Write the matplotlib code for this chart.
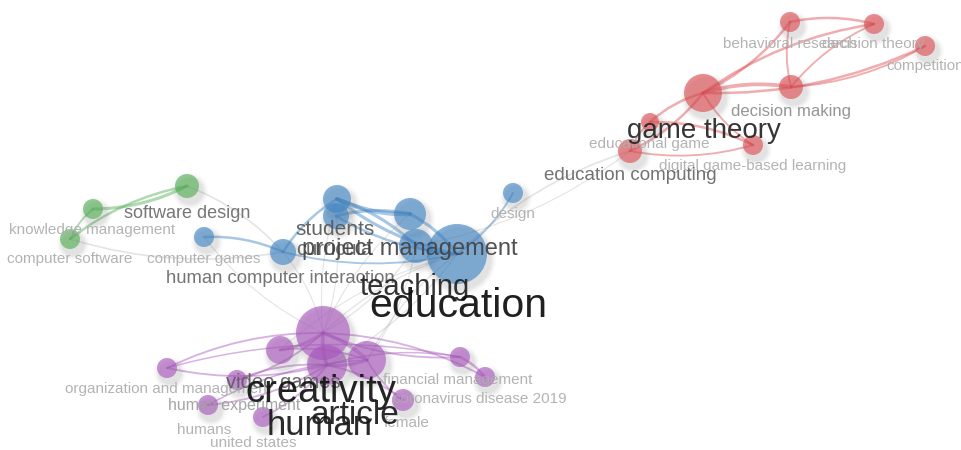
import numpy as np
import matplotlib
matplotlib.use('Agg')
import matplotlib.pyplot as plt
from matplotlib.patches import Circle, PathPatch
from matplotlib.path import Path

plt.rcParams['font.family'] = ['Liberation Sans', 'DejaVu Sans']

# Keyword co-occurrence map (layout coordinates, y grows downward)
terms = [
    'game theory', 'behavioral research', 'decision theory', 'competition',
    'decision making', 'educational game', 'education computing',
    'digital game-based learning',
    'software design', 'knowledge management', 'computer software',
    'computer games', 'human computer interaction', 'students', 'curricula',
    'design', 'project management', 'teaching', 'education',
    'creativity', 'article', 'human', 'video games',
    'organization and management', 'human experiment', 'humans',
    'united states', 'financial management', 'coronavirus disease 2019',
    'female',
]
cluster = [0] * 8 + [1] * 3 + [2] * 8 + [3] * 11
node_x = [703, 790, 874, 925, 791, 650, 630, 753,
          187, 93, 70,
          204, 283, 337, 336, 513, 410, 416, 457,
          323, 367, 327, 280, 167, 237, 208, 263, 460, 485, 403]
node_y = [93, 22, 24, 46, 87, 122, 151, 145,
          186, 209, 239,
          237, 252, 199, 216, 193, 214, 246, 254,
          333, 360, 365, 350, 368, 380, 405, 417, 357, 377, 400]
node_r = [19, 10, 10, 10, 12, 9, 12, 10,
          12, 10, 10,
          10, 13, 14, 13, 10, 16, 17, 30,
          27, 19, 20, 14, 10, 10, 10, 10, 10, 10, 11]

# label anchor (centre x, baseline y) and size
label_x = [704, 790, 873, 925, 791, 649, 630, 753,
           187, 92, 70,
           204, 280, 335, 334, 513, 410, 415, 458,
           321, 355, 320, 283, 168, 234, 204, 253, 458, 480, 407]
label_y = [138, 48, 48, 70, 116, 148, 180, 170,
           218, 234, 263,
           263, 283, 235, 255, 218, 255, 295, 317,
           402, 424, 435, 388, 393, 410, 434, 447, 384, 403, 427]
label_size = [20, 11, 11, 11, 12, 11, 13.5, 11,
              13, 11, 11,
              11, 13.3, 15, 14.5, 11, 17, 21, 29.5,
              27.5, 24, 25, 14.5, 11, 11.5, 11, 11, 11, 11, 11]

edges = [
    ('game theory', 'behavioral research', 2), ('game theory', 'decision theory', 2),
    ('game theory', 'competition', 2), ('game theory', 'decision making', 3),
    ('game theory', 'educational game', 2), ('game theory', 'education computing', 2),
    ('game theory', 'digital game-based learning', 1.5),
    ('behavioral research', 'decision theory', 2), ('behavioral research', 'decision making', 1.5),
    ('decision making', 'decision theory', 1.5), ('decision making', 'competition', 1.5),
    ('educational game', 'digital game-based learning', 2),
    ('education computing', 'digital game-based learning', 1.5),
    ('education computing', 'educational game', 1.5),
    ('education computing', 'education', 1.5), ('education computing', 'teaching', 1),
    ('knowledge management', 'software design', 2.5), ('computer software', 'software design', 2),
    ('knowledge management', 'computer software', 1.5),
    ('software design', 'human computer interaction', 1.5),
    ('computer software', 'human computer interaction', 1.5),
    ('computer games', 'human computer interaction', 2),
    ('computer games', 'creativity', 1),
    ('human computer interaction', 'students', 2),
    ('human computer interaction', 'education', 1.5),
    ('human computer interaction', 'creativity', 1),
    ('students', 'project management', 3.5), ('students', 'teaching', 2.5),
    ('students', 'education', 2.5), ('curricula', 'project management', 2.5),
    ('curricula', 'education', 2), ('project management', 'education', 2.5),
    ('teaching', 'education', 2), ('design', 'education', 1.5),
    ('education', 'creativity', 1.2), ('teaching', 'creativity', 1.2),
    ('project management', 'creativity', 1), ('curricula', 'creativity', 1),
    ('students', 'human', 1), ('education', 'human', 1.2),
    ('education', 'article', 1.2), ('teaching', 'article', 1),
    ('education', 'video games', 1),
    ('organization and management', 'creativity', 1.5),
    ('organization and management', 'human', 1.5),
    ('organization and management', 'financial management', 1.2),
    ('video games', 'creativity', 2.5), ('video games', 'article', 1.5),
    ('human experiment', 'creativity', 1.5), ('human experiment', 'human', 1.5),
    ('humans', 'human', 1.5), ('humans', 'article', 1.2),
    ('united states', 'human', 1.5),
    ('financial management', 'creativity', 1.5), ('financial management', 'human', 1.2),
    ('financial management', 'coronavirus disease 2019', 2),
    ('coronavirus disease 2019', 'creativity', 1.5),
    ('creativity', 'article', 3), ('creativity', 'human', 3), ('article', 'human', 2.5),
    ('female', 'human', 1.5), ('female', 'article', 1.5),
]

palette = ['#de4a50', '#4fae52', '#3d83c4', '#a855bd']

idx = {t: i for i, t in enumerate(terms)}

fig = plt.figure(figsize=(9.62, 4.5), dpi=100)
ax = fig.add_axes([0, 0, 1, 1])
ax.set_xlim(0, 962)
ax.set_ylim(450, 0)
ax.axis('off')


def curve(ax, p0, p1, color, lw, alpha, bend=0.12):
    p0 = np.asarray(p0, float)
    p1 = np.asarray(p1, float)
    mid = (p0 + p1) / 2
    d = p1 - p0
    normal = np.array([-d[1], d[0]])
    ctrl = mid + bend * normal
    path = Path([p0, ctrl, p1], [Path.MOVETO, Path.CURVE3, Path.CURVE3])
    ax.add_patch(PathPatch(path, facecolor='none', edgecolor=color,
                           lw=lw, alpha=alpha, capstyle='round', zorder=1))


# links: grey between clusters, cluster colour inside
for k, (a, b, w) in enumerate(edges):
    i, j = idx[a], idx[b]
    p0 = (node_x[i], node_y[i])
    p1 = (node_x[j], node_y[j])
    bend = 0.12 if k % 2 == 0 else -0.12
    if cluster[i] == cluster[j]:
        curve(ax, p0, p1, palette[cluster[i]], w * 0.9, 0.45, bend)
    else:
        curve(ax, p0, p1, '#a8a8a8', w * 0.8, 0.3, bend)

# soft drop shadows then nodes
for i in range(len(terms)):
    x, y, r = node_x[i], node_y[i], node_r[i]
    for grow, a in [(6, 0.03), (4.5, 0.04), (3, 0.05), (1.5, 0.06)]:
        ax.add_patch(Circle((x + 3, y + 5), r + grow, color='#606060',
                            alpha=a, lw=0, zorder=2))
for i in range(len(terms)):
    ax.add_patch(Circle((node_x[i], node_y[i]), node_r[i],
                        color=palette[cluster[i]], alpha=0.62, lw=0, zorder=3))

# labels, small first so the big ones sit on top
order = np.argsort(label_size)
for i in order:
    fs = label_size[i]
    g = np.interp(fs, [11, 13, 15, 20, 29.5], [0.68, 0.42, 0.34, 0.14, 0.05])
    ax.text(label_x[i], label_y[i], terms[i], fontsize=fs, color=(g, g, g),
            ha='center', va='baseline', alpha=0.92, zorder=4)

fig.savefig('out.png', dpi=100, facecolor='white')
